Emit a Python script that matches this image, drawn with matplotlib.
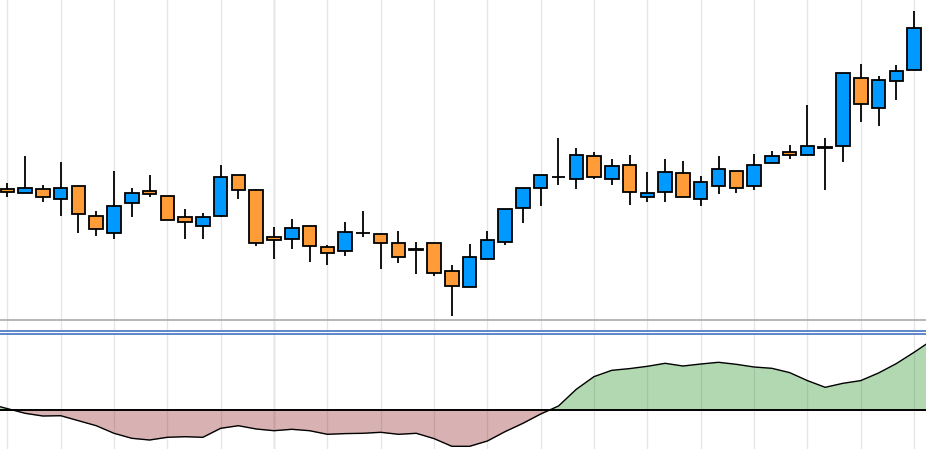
"""
Candlestick chart with an oscillator panel underneath.
"""

import matplotlib
matplotlib.use("Agg")

import matplotlib.pyplot as plt
import numpy as np

# ── Price data (one entry per visible bar) ──────────────────
opens = [141, 137.7, 141.7, 131.7, 144.7, 114.7, 97.7, 127.7, 139, 134.7,
         113.7, 104.7, 114.7, 155, 140.7, 93.7, 91.7, 104.7, 83.7, 79.7,
         97.7, 96.7, 87.7, 81.5, 87.7, 59.7, 43.7, 71.7, 88.7, 122.7,
         142.7, 153.7, 151.7, 174.7, 151.7, 165.7, 133.7, 138.7, 157.7, 131.7,
         144.7, 159.7, 144.7, 167.7, 178.7, 175.7, 183, 184.7, 251.7, 221.7,
         248.7, 259.7]
highs = [147.7, 174, 145, 168, 144.7, 119, 159, 142, 155, 134.7,
         121, 117, 165, 155, 141.7, 103, 111, 104.7, 85, 108,
         119, 96.7, 99, 88, 87.7, 65, 86, 99, 121.7, 142.7,
         155, 192, 182, 178, 171, 175, 158, 171, 169, 154,
         174, 159.7, 176, 179, 185, 225, 192, 256.7, 266, 254,
         265, 319]
lows = [133.3, 137.7, 128.3, 114.3, 97.3, 94.3, 91.3, 113.3, 133.3, 110.7,
        91.3, 91.3, 113.3, 131.3, 84.3, 71.3, 81.3, 68.3, 65.3, 74.3,
        93.3, 61.3, 67.3, 56.3, 54.3, 14.3, 43.7, 71.7, 85.3, 107.3,
        124.3, 145.3, 141.3, 151.3, 145.3, 125.7, 128.3, 128.3, 133.7, 124.3,
        136.3, 137.7, 140.3, 167.7, 171.3, 175.7, 140.3, 168.3, 208.3, 204.3,
        230.3, 259.7]
closes = [138.7, 142.7, 133.7, 142.7, 116.7, 101.7, 124.7, 137.7, 136.7, 110.7,
          108.7, 113.7, 153.7, 140.7, 87.7, 90.7, 102.7, 84.7, 77.7, 98.7,
          97.7, 87.7, 73.7, 80.5, 57.7, 44.7, 73.7, 90.7, 121.7, 142.7,
          155, 153.7, 175.7, 153.7, 164.7, 138.7, 137.7, 158.7, 133.7, 148.7,
          161.7, 142.7, 165.7, 174.7, 175.7, 184.7, 182, 256.7, 225.7, 249.7,
          258.7, 301.7]

# Oscillator: one value per bar, plus the bar before and after the visible window
osc = [6.3, 1.7, -3, -5.7, -5.4, -10.4, -15.4, -23, -28, -29.7,
       -27, -26.4, -27, -18, -15.4, -18.7, -20.4, -19, -20.4, -24,
       -23.3, -23, -22, -24, -23, -28.3, -36, -36, -30.7, -21.3,
       -13, -3.7, 4.3, 21, 33.7, 40, 41.7, 44, 47, 44.3,
       46.3, 48, 46, 43.3, 42, 37.7, 29.7, 23, 27, 29.7,
       37.3, 46.7, 58, 70]

UP_COLOR = "#0099ff"
DOWN_COLOR = "#ff9c38"
GRID_COLOR = "#e6e6e6"
SEP_COLOR = "#4472c4"

W, H = 926, 449
XLIM = (0.589, 52.67)


def setup_grid(ax):
    ax.set_xlim(*XLIM)
    ax.set_xticks(np.arange(1, 53, 3))
    ax.set_yticks([])
    ax.tick_params(axis="x", length=0, labelbottom=False)
    ax.grid(axis="x", color=GRID_COLOR, linewidth=1)
    ax.set_axisbelow(True)
    # darker period separator
    ax.axvline(16, color="#c8c8c8", linewidth=1, zorder=0.5)
    for s in ax.spines.values():
        s.set_visible(False)


def plot_candles(ax):
    o = np.array(opens)
    h = np.array(highs)
    l = np.array(lows)
    c = np.array(closes)
    x = np.arange(1, len(o) + 1)

    ax.vlines(x, l, h, color="black", linewidth=1.3, zorder=2)
    colors = [UP_COLOR if ci > oi else DOWN_COLOR for oi, ci in zip(o, c)]
    ax.bar(x, np.abs(c - o), bottom=np.minimum(o, c), width=0.76,
           color=colors, edgecolor="black", linewidth=1.3, zorder=3)

    ax.set_ylim(0, 330)
    ax.axhline(10.7, color="#aaaaaa", linewidth=1.2, zorder=1)
    ax.spines["bottom"].set_visible(True)
    ax.spines["bottom"].set_color(SEP_COLOR)
    ax.spines["bottom"].set_linewidth(1.2)


def plot_oscillator(ax):
    x = np.arange(0, len(osc))
    y = np.array(osc)
    ax.fill_between(x, y, 0, where=y >= 0, interpolate=True,
                    color="green", alpha=0.3, linewidth=0, zorder=1)
    ax.fill_between(x, y, 0, where=y <= 0, interpolate=True,
                    color="maroon", alpha=0.3, linewidth=0, zorder=1)
    ax.plot(x, y, color="black", linewidth=1, zorder=3)
    ax.axhline(0, color="black", linewidth=1.4, zorder=2)
    ax.set_ylim(-38.7, 76.8)
    ax.spines["top"].set_visible(True)
    ax.spines["top"].set_color(SEP_COLOR)
    ax.spines["top"].set_linewidth(1.2)


def main():
    fig = plt.figure(figsize=(W / 100, H / 100), dpi=100)

    top_h = 330.5 / H
    ax_price = fig.add_axes([0, 1 - top_h, 1, top_h])
    ax_osc = fig.add_axes([0, 0, 1, 115.5 / H])

    setup_grid(ax_price)
    setup_grid(ax_osc)
    plot_candles(ax_price)
    plot_oscillator(ax_osc)

    fig.savefig("out.png", dpi=100)
    plt.close(fig)


if __name__ == "__main__":
    main()
